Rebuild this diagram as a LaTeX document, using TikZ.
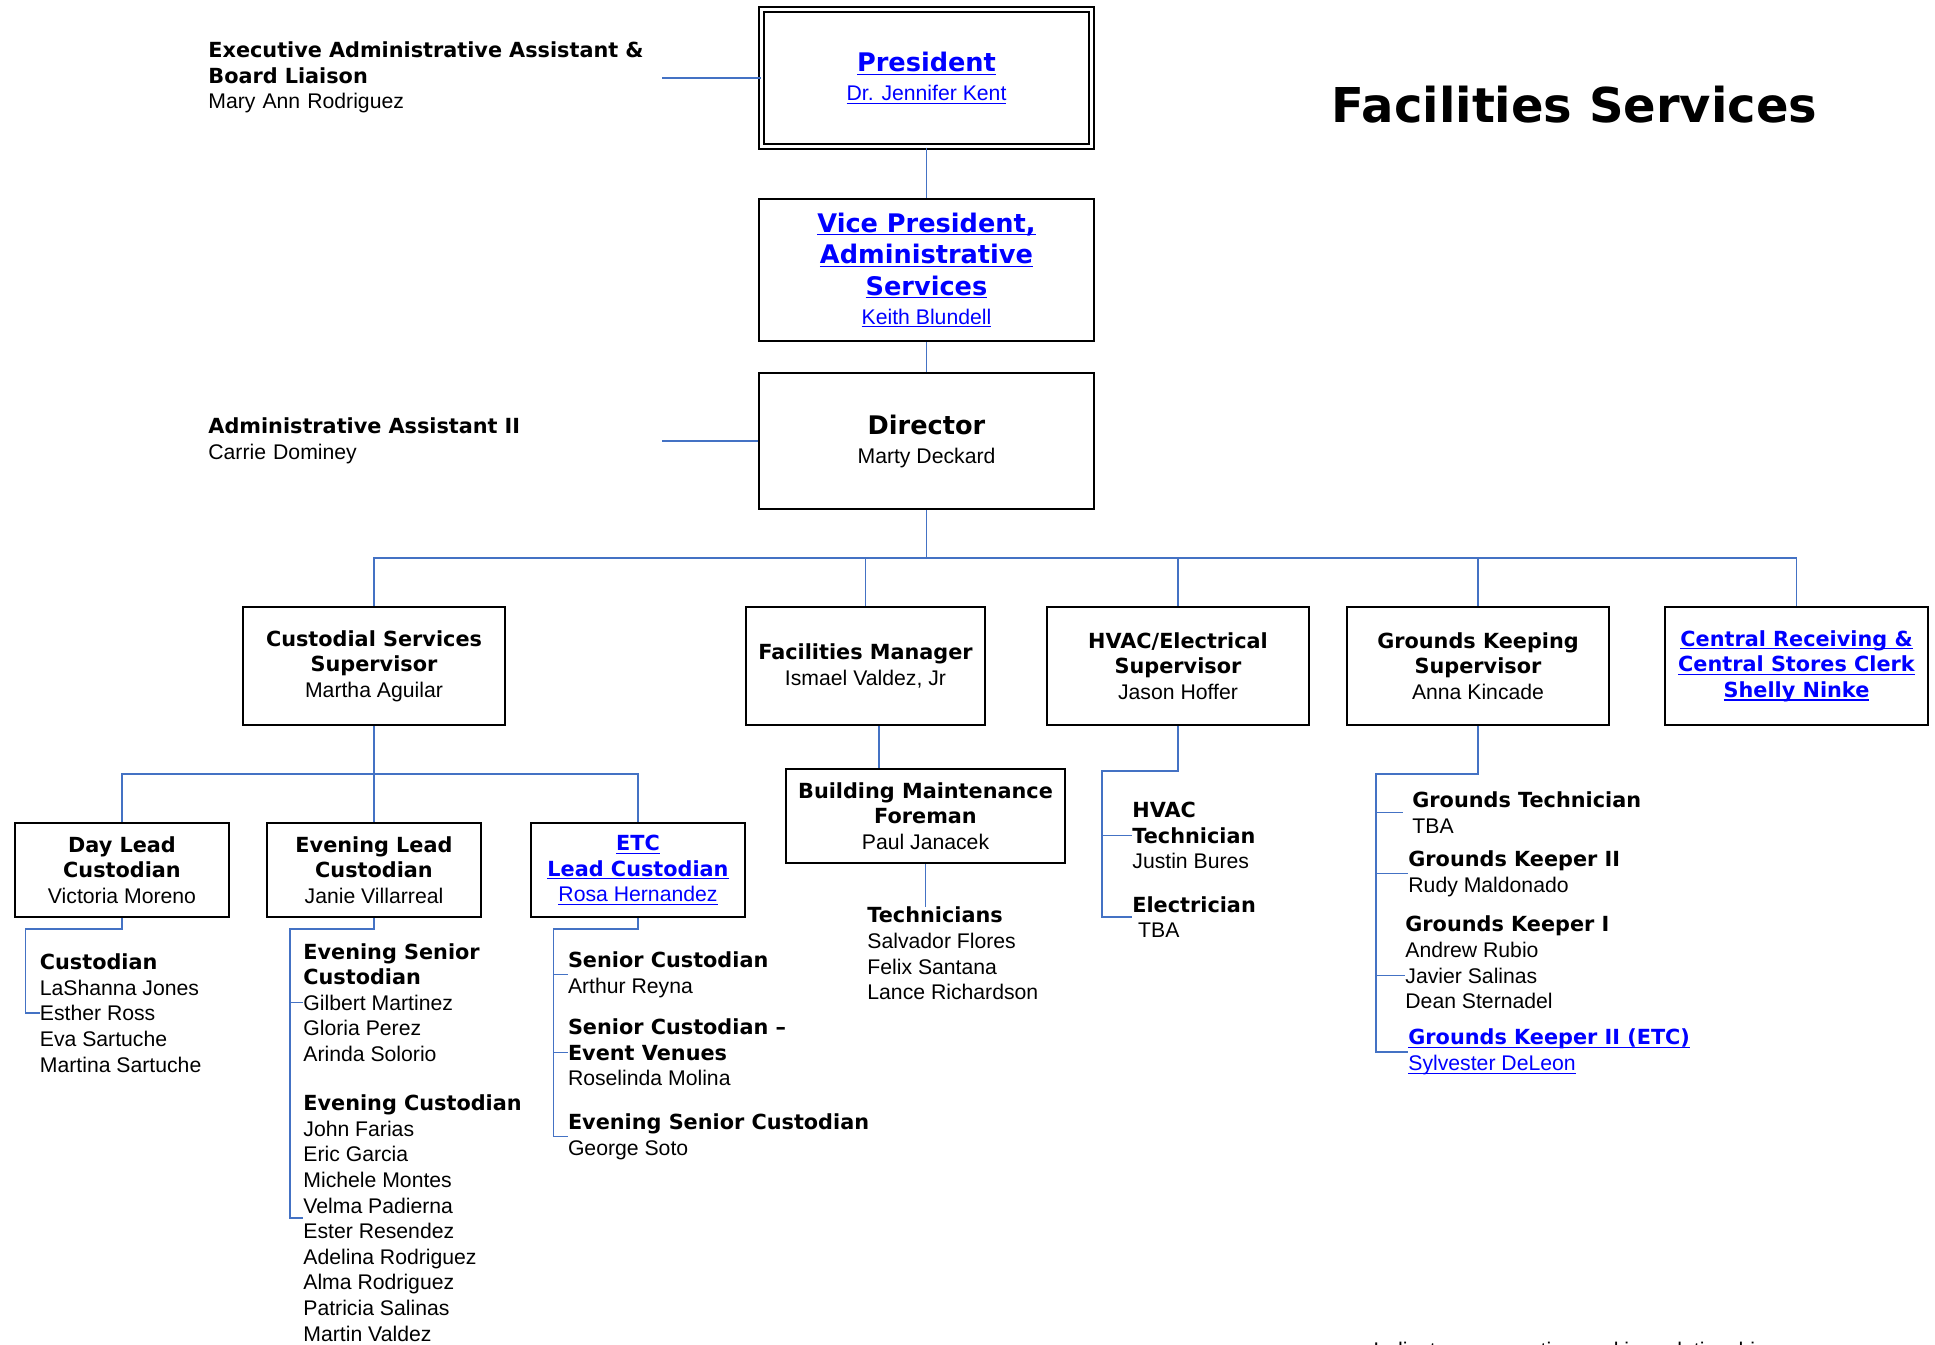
\documentclass[tikz,border=0pt]{standalone}
\usepackage{fontspec}
\setmainfont{Liberation Sans}
\newfontfamily\hvfont{DejaVu Sans}
\usepackage{xcolor}
\definecolor{linkblue}{RGB}{0,0,255}
\definecolor{wire}{RGB}{68,114,196}
\newsavebox\lkbox
\newcommand\hd[1]{{\hvfont\bfseries\fontsize{10.4}{12.8}\selectfont #1}}
\newcommand\bighd[1]{{\hvfont\bfseries\fontsize{12.8}{15.75}\selectfont #1}}
\newcommand\lk[1]{\textcolor{linkblue}{\sbox\lkbox{#1}\rlap{\rule[-1.7pt]{\wd\lkbox}{0.65pt}}\usebox\lkbox}}

\begin{document}
\begin{tikzpicture}[x=0.5pt,y=-0.5pt,
  every node/.style={inner sep=0pt,font=\fontsize{10.6}{12.8}\selectfont},
  orgbox/.style={draw,line width=1pt,align=center},
  topbox/.style={orgbox,minimum width=167.5pt,font=\fontsize{10.6}{15.75}\selectfont},
  midbox/.style={orgbox,minimum width=131pt,minimum height=59pt},
  lowbox/.style={orgbox,minimum width=107pt,minimum height=47pt},
  staff/.style={anchor=west,align=left},
  wireline/.style={draw=wire,line width=0.8pt}]
\useasboundingbox (0,0) rectangle (1935,1345);

\node[anchor=base] (title) at (1574.5,122) {\hvfont\bfseries\fontsize{24}{28}\selectfont Facilities Services};

\node[topbox,double,double distance=1.6pt,line width=0.9pt,minimum width=165pt,minimum height=68.6pt] (pres) at (926.5,78)
  {\bighd{\lk{President}}\\[-1.25pt]\lk{Dr. Jennifer Kent}};
\node[topbox,minimum height=71pt] (vp) at (926.5,270)
  {\bighd{\lk{Vice President,}}\\\bighd{\lk{Administrative}}\\\bighd{\lk{Services}}\\[-1.25pt]\lk{Keith Blundell}};
\node[topbox,minimum height=68pt] (dir) at (926.5,441) {\bighd{Director}\\[-1.25pt]Marty Deckard};

\node[staff,text width=226.5pt] (eaa) at (208,77.5)
  {\hd{Executive Administrative Assistant \&}\\\hd{Board Liaison}\\Mary Ann Rodriguez};
\node[staff,text width=226.5pt] (aa2) at (208,440.5) {\hd{Administrative Assistant II}\\Carrie Dominey};

\node[midbox] (cust) at (374,666) {\hd{Custodial Services}\\\hd{Supervisor}\\Martha Aguilar};
\node[midbox,minimum width=119.5pt] (fm) at (865.5,666) {\hd{Facilities Manager}\\Ismael Valdez, Jr};
\node[midbox] (hvac) at (1178,666) {\hd{HVAC/Electrical}\\\hd{Supervisor}\\Jason Hoffer};
\node[midbox] (grd) at (1478,666) {\hd{Grounds Keeping}\\\hd{Supervisor}\\Anna Kincade};
\node[midbox,minimum width=131.5pt] (crc) at (1796.5,666)
  {\hd{\lk{Central Receiving \&}}\\\hd{\lk{Central Stores Clerk}}\\\hd{\lk{Shelly Ninke}}};

\node[lowbox] (dlc) at (122,870) {\hd{Day Lead}\\\hd{Custodian}\\Victoria Moreno};
\node[lowbox] (elc) at (374,870) {\hd{Evening Lead}\\\hd{Custodian}\\Janie Villarreal};
\node[lowbox] (etc) at (638,870) {\hd{\lk{ETC}}\\\hd{\lk{Lead Custodian}}\\\lk{Rosa Hernandez}};
\node[lowbox,minimum width=139.5pt] (bmf) at (925.5,816) {\hd{Building Maintenance}\\\hd{Foreman}\\Paul Janacek};

\node[staff] (dcu) at (39.5,1013) {\hd{Custodian}\\LaShanna Jones\\Esther Ross\\Eva Sartuche\\Martina Sartuche};
\node[staff] (esc) at (303,1002.5) {\hd{Evening Senior}\\\hd{Custodian}\\Gilbert Martinez\\Gloria Perez\\Arinda Solorio};
\node[staff] (ecu) at (303,1218) {\hd{Evening Custodian}\\John Farias\\Eric Garcia\\Michele Montes\\Velma Padierna\\Ester Resendez\\Adelina Rodriguez\\Alma Rodriguez\\Patricia Salinas\\Martin Valdez};
\node[staff] (sc) at (567.6,974.5) {\hd{Senior Custodian}\\Arthur Reyna};
\node[staff] (sce) at (567.6,1052.5) {\hd{Senior Custodian –}\\\hd{Event Venues}\\Roselinda Molina};
\node[staff] (esc2) at (567.6,1136.5) {\hd{Evening Senior Custodian}\\George Soto};
\node[staff] (tech) at (867,953.5) {\hd{Technicians}\\Salvador Flores\\Felix Santana\\Lance Richardson};
\node[staff] (hvt) at (1132,835.5) {\hd{HVAC}\\\hd{Technician}\\Justin Bures};
\node[staff] (elec) at (1132,917) {\hd{Electrician}\\\hspace*{2.9pt}TBA};
\node[staff] (gt) at (1412,812.5) {\hd{Grounds Technician}\\TBA};
\node[staff] (gk2) at (1408,873.5) {\hd{Grounds Keeper II}\\Rudy Maldonado};
\node[staff] (gk1) at (1405,962.5) {\hd{Grounds Keeper I}\\Andrew Rubio\\Javier Salinas\\Dean Sternadel};
\node[staff] (gke) at (1408,1052) {\hd{\lk{Grounds Keeper II (ETC)}}\\\lk{Sylvester DeLeon}};
\node[anchor=base west] (note) at (1373,1357) {Indicates cooperative working relationship};

\draw[wireline] (pres.west) -- (pres.west -| eaa.east);
\draw[wireline] (dir.west) -- (dir.west -| aa2.east);
\draw[wireline] (pres.south) -- (vp.north);
\draw[wireline] (vp.south) -- (dir.north);
\coordinate (bus) at ([yshift=-24pt]dir.south);
\foreach \n in {cust,fm,hvac,grd,crc}
  \draw[wireline] (dir.south) -- (bus) -| (\n.north);
\coordinate (cbus) at ([yshift=-24pt]cust.south);
\foreach \n in {dlc,elc,etc}
  \draw[wireline] (cust.south) -- (cbus) -| (\n.north);
\draw[wireline] ([xshift=6.75pt]fm.south) -- ([xshift=6.75pt]fm.south |- bmf.north);
\draw[wireline] (bmf.south) -- (bmf.south |- tech.north);

\draw[wireline] (dlc.south) -- ++(0,11) -| ([xshift=-7pt]dcu.west) -- (dcu.west);
\draw[wireline] (elc.south) -- ++(0,11) -| ([xshift=-6.5pt]ecu.west) -- (ecu.west);
\draw[wireline] ([xshift=-6.5pt]esc.west) -- (esc.west);
\draw[wireline] (etc.south) -- ++(0,11) -| ([xshift=-7pt]esc2.west) -- (esc2.west);
\foreach \n in {sc,sce}
  \draw[wireline] ([xshift=-7pt]\n.west) -- (\n.west);
\draw[wireline] (hvac.south) -- ++(0,45) -| ([xshift=-15pt]elec.west) -- (elec.west);
\draw[wireline] ([xshift=-15pt]hvt.west) -- (hvt.west);
\draw[wireline] (grd.south) -- ++(0,48) -| ([xshift=-16pt]gke.west) -- (gke.west);
\draw[wireline] ([xshift=-18pt]gt.west) -- ([xshift=-4.5pt]gt.west);
\draw[wireline] ([xshift=-16pt]gk2.west) -- (gk2.west);
\draw[wireline] ([xshift=-14.5pt,yshift=-6.5pt]gk1.west) -- ([yshift=-6.5pt]gk1.west);
\end{tikzpicture}
\end{document}
